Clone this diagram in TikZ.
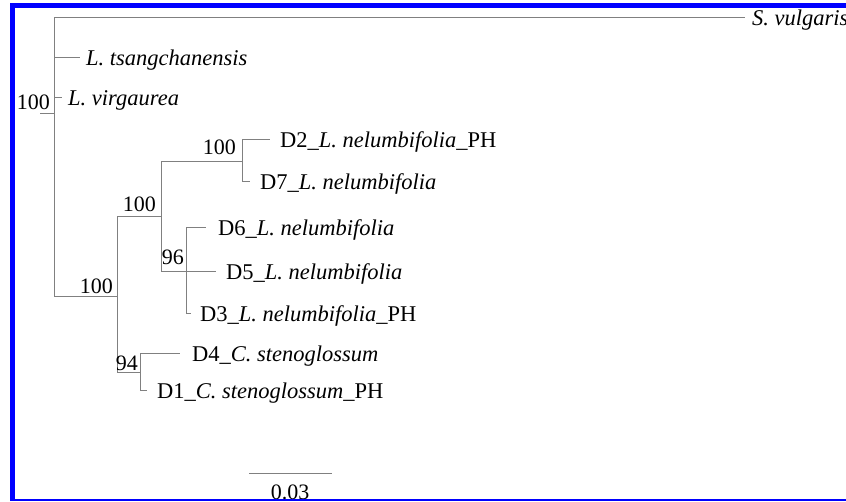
\documentclass[tikz,border=0pt]{standalone}
\usepackage{fontspec}
\setmainfont{Liberation Serif}
\usetikzlibrary{positioning}
\definecolor{branchgray}{RGB}{128,128,128}
\definecolor{framecol}{RGB}{0,0,255}
\tikzset{
	branch/.style={draw=branchgray,line width=1pt},
	taxon/.style={inner sep=0pt,text height=17pt,text depth=0pt,font=\fontsize{22.5}{24}\selectfont},
	boot/.style={anchor=south east,inner sep=0pt,font=\fontsize{22}{24}\selectfont},
}

\begin{document}
\begin{tikzpicture}[x=1pt,y=-1pt]
	\useasboundingbox (0,0) rectangle (846,501);
	\fill[white] (0,0) rectangle (846,501);
	\coordinate (stub) at (40,113);
	\coordinate (root) at (54,113);
	\coordinate (n100b) at (117,296);
	\coordinate (n100c) at (161,216);
	\coordinate (n100d) at (242,161);
	\coordinate (n96) at (186,271);
	\coordinate (n94) at (140,372);
	\coordinate (svul) at (745,17);
	\coordinate (ltsa) at (80,57);
	\coordinate (lvir) at (62,97);
	\coordinate (d2) at (270,139);
	\coordinate (d7) at (250,181);
	\coordinate (d6) at (206,227);
	\coordinate (d5) at (216,271);
	\coordinate (d3) at (191,313);
	\coordinate (d4) at (180,353);
	\coordinate (d1) at (147,390);
	\draw[branch] (stub)--(root);
	\foreach \p/\c in {root/svul,root/ltsa,root/lvir,root/n100b,n100b/n100c,n100b/n94,
		n100c/n100d,n100c/n96,n100d/d2,n100d/d7,n96/d6,n96/d5,n96/d3,n94/d4,n94/d1}{
		\draw[branch] (\p) |- (\c);
	}
	\foreach \c/\g/\t in {svul/7/{\textit{S. vulgaris}},
		ltsa/6/{\textit{L. tsangchanensis}},
		lvir/6/{\textit{L. virgaurea}},
		d2/10/{D2\_\textit{L. nelumbifolia}\_PH},
		d7/10/{D7\_\textit{L. nelumbifolia}},
		d6/12/{D6\_\textit{L. nelumbifolia}},
		d5/10/{D5\_\textit{L. nelumbifolia}},
		d3/9/{D3\_\textit{L. nelumbifolia}\_PH},
		d4/12/{D4\_\textit{C. stenoglossum}},
		d1/10/{D1\_\textit{C. stenoglossum}\_PH}}{
		\node[taxon,right=\g pt of \c] (\c-lab) {\t};
	}
	\foreach \c/\v/\dx/\dy in {root/100/-4/3,n100b/100/-4/2,n100c/100/-5/4,
		n100d/100/-6/6,n96/96/-2/6,n94/94/-2/1}{
		\node[boot,xshift=\dx pt,yshift=\dy pt] (\c-bs) at (\c) {\v};
	}
	\coordinate (sbl) at (249,473);
	\coordinate (sbr) at (332,473);
	\draw[branch] (sbl)--(sbr);
	\node[anchor=base,inner sep=0pt,font=\fontsize{22}{24}\selectfont] (sblab) at (290,499) {0.03};
	\fill[framecol] (10,3) rectangle (15,501);
	\fill[framecol] (10,3) rectangle (846,8);
	\fill[framecol] (10,499) rectangle (846,501);
\end{tikzpicture}
\end{document}
